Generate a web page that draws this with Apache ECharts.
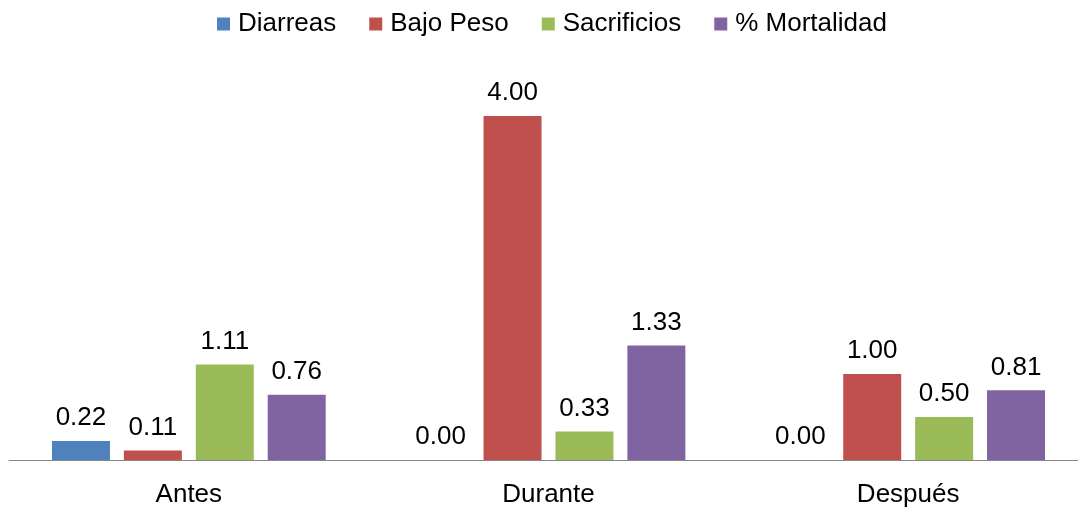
<!DOCTYPE html>
<html>
<head>
<meta charset="utf-8">
<script src="https://cdn.jsdelivr.net/npm/echarts@6/dist/echarts.min.js"></script>
<style>
html,body{margin:0;padding:0;background:#fff;overflow:hidden;width:1078px;height:508px;}
#chart{width:1100px;height:508px;}
</style>
</head>
<body>
<div id="chart"></div>
<script>
var categories = ['Antes', 'Durante', 'Después'];
var seriesNames = ['Diarreas', 'Bajo Peso', 'Sacrificios', '% Mortalidad'];
var diarreas = [0.22, 0.00, 0.00];
var bajoPeso = [0.11, 4.00, 1.00];
var sacrificios = [1.11, 0.33, 0.50];
var mortalidad = [0.76, 1.33, 0.81];
var colors = ['#4F81BD', '#C0504D', '#9BBB59', '#8064A2'];

var font = '"Liberation Sans", Arial, sans-serif';
var dataSets = [diarreas, bajoPeso, sacrificios, mortalidad];

var chart = echarts.init(document.getElementById('chart'), null, {renderer: 'canvas'});
chart.setOption({
  animation: false,
  color: colors,
  textStyle: {fontFamily: font},
  legend: {
    data: seriesNames,
    left: 217,
    top: 11,
    padding: 0,
    itemWidth: 13,
    itemHeight: 13,
    itemGap: 33,
    icon: 'rect',
    textStyle: {fontSize: 26, color: '#000', fontFamily: font, padding: [0, 0, 0, 3]}
  },
  grid: {left: 9, top: 30, width: 1079, height: 430, containLabel: false},
  xAxis: {
    type: 'category',
    data: categories,
    axisLine: {lineStyle: {color: '#868686', width: 1}},
    axisTick: {show: false},
    axisLabel: {fontSize: 26, color: '#000', margin: 22, fontFamily: font}
  },
  yAxis: {
    type: 'value',
    min: 0,
    max: 5,
    show: false,
    splitLine: {show: false}
  },
  series: seriesNames.map(function (name, i) {
    return {
      name: name,
      type: 'bar',
      data: dataSets[i],
      barWidth: 58,
      barGap: '24%',
      itemStyle: {color: colors[i]},
      label: {
        show: true,
        position: 'top',
        distance: 10,
        fontSize: 26,
        color: '#000',
        fontFamily: font,
        formatter: function (p) { return p.value.toFixed(2); }
      }
    };
  })
});
</script>
</body>
</html>
